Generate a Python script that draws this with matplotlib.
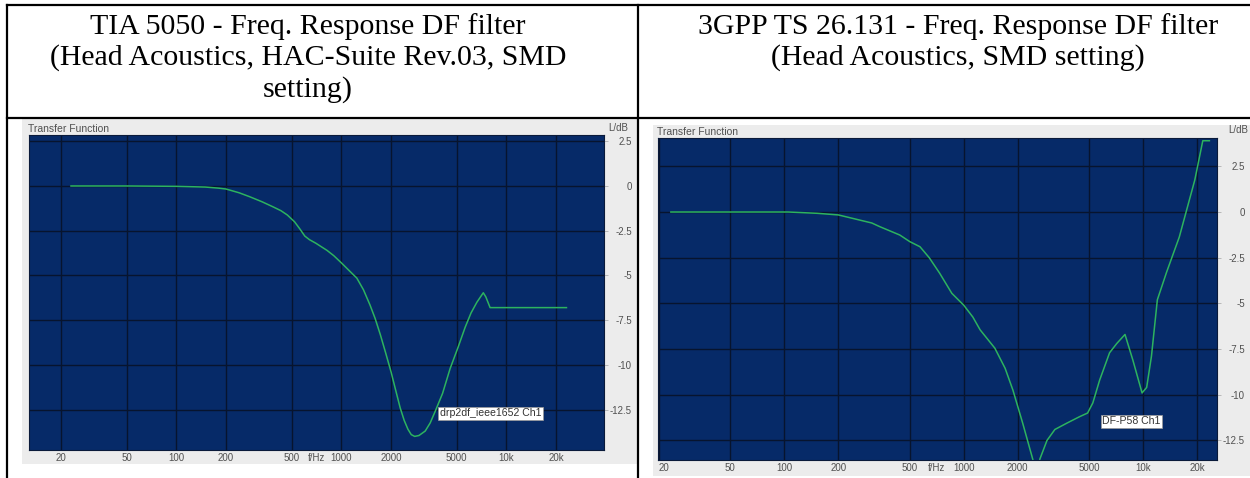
import matplotlib
matplotlib.use('Agg')
import matplotlib.pyplot as plt
import matplotlib.ticker as mticker
from matplotlib.lines import Line2D

# headers of the two table cells
left_title = 'TIA 5050 - Freq. Response DF filter\n(Head Acoustics, HAC-Suite Rev.03, SMD\nsetting)'
right_title = '3GPP TS 26.131 - Freq. Response DF filter\n(Head Acoustics, SMD setting)'

# x ticks (Hz) and y ticks (dB)
freq_ticks = [20, 50, 100, 200, 500, 1000, 2000, 5000, 10000, 20000]
freq_labels = ['20', '50', '100', '200', '500', '1000', '2000', '5000', '10k', '20k']
db_ticks = [2.5, 0, -2.5, -5, -7.5, -10, -12.5]
db_labels = ['2.5', '0', '-2.5', '-5', '-7.5', '-10', '-12.5']

# TIA 5050 curve
tia_freq = [23, 50, 100, 150, 180, 200, 240, 278, 330, 386, 430, 470, 520, 560,
            600, 640, 700, 818, 900, 1000, 1120, 1240, 1360, 1490, 1600, 1720,
            1850, 2000, 2130, 2270, 2400, 2530, 2650, 2780, 2950, 3220, 3450,
            3700, 4100, 4560, 5100, 5620, 6100, 6620, 7240, 7500, 7960, 23100]
tia_db = [0, 0, -0.02, -0.06, -0.12, -0.17, -0.38, -0.6, -0.88, -1.17, -1.38,
          -1.62, -2.0, -2.4, -2.8, -3.0, -3.2, -3.6, -3.9, -4.3, -4.75, -5.15,
          -5.8, -6.65, -7.4, -8.3, -9.3, -10.4, -11.4, -12.4, -13.1, -13.6,
          -13.9, -14.0, -13.95, -13.7, -13.25, -12.6, -11.6, -10.2, -9.0, -7.9,
          -7.1, -6.5, -5.97, -6.2, -6.8, -6.8]
tia_label = 'drp2df_ieee1652 Ch1'

# 3GPP curve
gpp_freq = [23.3, 105, 152, 200, 307, 340, 440, 500, 570, 642, 734, 858, 1000,
            1124, 1234, 1490, 1700, 1880, 2130, 2420, 2540, 2660, 2910, 3220,
            3760, 4420, 4900, 5240, 5720, 6500, 7120, 7920, 8760, 9860, 10460,
            11120, 12000, 13500, 15900, 19400, 21500, 23400]
gpp_db = [0, 0, -0.07, -0.16, -0.6, -0.8, -1.26, -1.62, -1.9, -2.5, -3.35, -4.45,
          -5.1, -5.75, -6.45, -7.45, -8.55, -9.75, -11.55, -13.5, -14.3, -13.5,
          -12.5, -11.9, -11.55, -11.2, -11.0, -10.45, -9.2, -7.7, -7.2, -6.7,
          -8.1, -9.9, -9.6, -7.9, -4.8, -3.3, -1.37, 1.75, 3.9, 3.9]
gpp_label = 'DF-P58 Ch1'

W, H = 1250, 478
BLUE = '#062a68'
GRID = '#07142e'
GREEN = '#2db35f'
GRAY = '#ececec'
TXT = '#505050'
SANS = 'Liberation Sans'


def box(x0, y0, x1, y1):
    return [x0 / W, 1 - y1 / H, (x1 - x0) / W, (y1 - y0) / H]


fig = plt.figure(figsize=(W / 100, H / 100), dpi=100)


def draw_screen(frame, plot_area, xlim, ylim, freq, db, label, label_pos, ldb_pos):
    # light gray window around the plot
    bg = fig.add_axes(box(*frame))
    bg.set_facecolor(GRAY)
    bg.set_xticks([])
    bg.set_yticks([])
    for s in bg.spines.values():
        s.set_visible(False)
    fig.text((plot_area[0] - 1) / W, 1 - (plot_area[1] - 6) / H, 'Transfer Function',
             fontsize=7.5, color=TXT, family=SANS, va='center', ha='left')

    ax = fig.add_axes(box(*plot_area))
    ax.set_facecolor(BLUE)
    ax.set_xscale('log')
    ax.set_xlim(*xlim)
    ax.set_ylim(*ylim)
    ax.xaxis.set_minor_locator(mticker.NullLocator())
    ax.set_xticks(freq_ticks)
    ax.set_xticklabels(freq_labels)
    ax.set_yticks(db_ticks)
    ax.set_yticklabels(db_labels)
    ax.yaxis.tick_right()
    ax.tick_params(axis='x', length=0, pad=2, labelsize=7, labelcolor=TXT)
    ax.tick_params(axis='y', length=3, width=0.6, color='#b0b0b0', pad=17,
                   labelsize=7, labelcolor=TXT)
    for t in ax.get_yticklabels():
        t.set_horizontalalignment('right')
        t.set_family(SANS)
    for t in ax.get_xticklabels():
        t.set_family(SANS)
    ax.grid(True, color=GRID, linewidth=1.0)
    for s in ax.spines.values():
        s.set_color('#0a1a3a')
        s.set_linewidth(0.8)

    ax.plot(freq, db, color=GREEN, linewidth=1.1)
    ax.text(label_pos[0], label_pos[1], label, fontsize=7.6, family=SANS,
            color='#333333', ha='center', va='center',
            bbox=dict(facecolor='white', edgecolor='#999999', linewidth=0.5,
                      boxstyle='square,pad=0.15'))
    ax.text(707, -0.009, 'f/Hz', transform=ax.get_xaxis_transform(), fontsize=7,
            family=SANS, color=TXT, ha='center', va='top')
    ax.text(ldb_pos[0], ldb_pos[1], 'L/dB', transform=ax.transAxes, fontsize=7,
            family=SANS, color=TXT, ha='left', va='bottom')
    return ax


ax1 = draw_screen((22, 119, 637, 464), (29, 135, 604, 450), (12.8, 39000),
                  (-14.76, 2.85), tia_freq, tia_db, tia_label, (8000, -12.7),
                  (1.008, 1.005))

ax2 = draw_screen((653, 125, 1250, 476), (658, 138, 1217, 460), (19.75, 25800),
                  (-13.57, 4.05), gpp_freq, gpp_db, gpp_label, (8600, -11.45),
                  (1.02, 1.01))
# the "20" of the right screenshot sits at the plot edge
ax2.get_xticklabels()[0].set_horizontalalignment('left')

# table header text
fig.text(308 / W, 1 - 58 / H, left_title, family='Liberation Serif', fontsize=21.5,
         ha='center', va='center', linespacing=1.24)
fig.text(958 / W, 1 - 42 / H, right_title, family='Liberation Serif', fontsize=21.5,
         ha='center', va='center', linespacing=1.24)

# table borders
lines = [((7, 1250), (5, 5)), ((7, 7), (5, 478)), ((638, 638), (5, 478)),
         ((7, 1250), (118, 118))]
for xs, ys in lines:
    fig.add_artist(Line2D([x / W for x in xs], [1 - y / H for y in ys],
                          color='black', linewidth=1.6))

fig.savefig('out.png', dpi=100)
